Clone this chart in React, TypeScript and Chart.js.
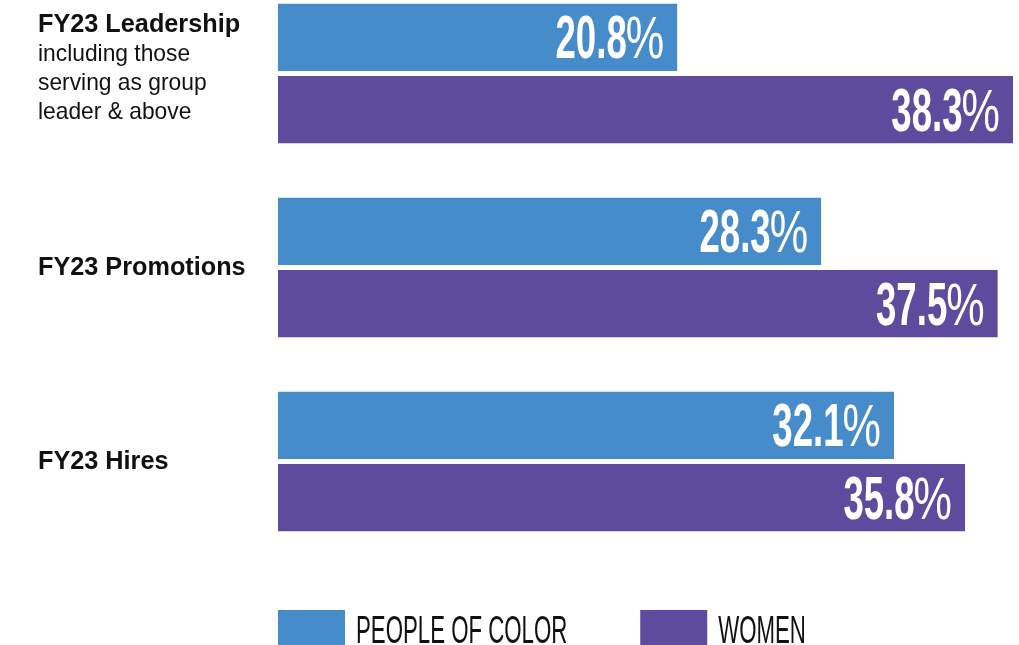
import React, { useEffect, useRef } from "react";
import { Chart, registerables } from "chart.js";

Chart.register(...registerables);

const categories = ["FY23 Leadership", "FY23 Promotions", "FY23 Hires"];
const categorySubLines = [["including those", "serving as group", "leader & above"], [], []];
const seriesNames = ["PEOPLE OF COLOR", "WOMEN"];
const peopleOfColor = [20.8, 28.3, 32.1];
const women = [38.3, 37.5, 35.8];
const seriesColors = ["#478CCA", "#5E4B9E"];

const FONT = "'Liberation Sans', Arial, sans-serif";

const leftLabelsPlugin = {
  id: "leftLabels",
  afterDraw(chart: any) {
    const ctx = chart.ctx;
    const y = chart.scales.y;
    const lh = 29;
    ctx.save();
    ctx.fillStyle = "#111111";
    ctx.textAlign = "left";
    ctx.textBaseline = "alphabetic";
    categories.forEach((cat, i) => {
      const lines = [cat, ...categorySubLines[i]];
      const n = lines.length;
      const c = y.getPixelForValue(i);
      let base = c + 7 - ((n - 1) * lh) / 2 - (n > 1 ? 5 : 0);
      lines.forEach((line, j) => {
        ctx.font = j === 0 ? `bold 25px ${FONT}` : `24px ${FONT}`;
        ctx.save();
        ctx.translate(38, base + j * lh);
        ctx.scale(j === 0 ? 1.01 : 0.95, 1);
        ctx.fillText(line, 0, 0);
        ctx.restore();
      });
    });
    ctx.restore();
  },
};

const valueLabelsPlugin = {
  id: "valueLabels",
  afterDatasetsDraw(chart: any) {
    const ctx = chart.ctx;
    ctx.save();
    ctx.fillStyle = "#ffffff";
    ctx.textAlign = "right";
    ctx.textBaseline = "alphabetic";
    const pctScale = 0.72;
    const numScale = 0.6;
    chart.data.datasets.forEach((ds: any, di: number) => {
      const meta = chart.getDatasetMeta(di);
      meta.data.forEach((el: any, i: number) => {
        const v = ds.data[i];
        const right = el.x - 13;
        const base = el.y + 21;
        ctx.font = `60px ${FONT}`;
        const pctW = ctx.measureText("%").width * pctScale;
        ctx.save();
        ctx.translate(right, base);
        ctx.scale(pctScale, 1);
        ctx.fillText("%", 0, 0);
        ctx.restore();
        ctx.font = `bold 61px ${FONT}`;
        ctx.save();
        ctx.translate(right - pctW + 1, base);
        ctx.scale(numScale, 1);
        ctx.fillText(v.toFixed(1), 0, 0);
        ctx.restore();
      });
    });
    ctx.restore();
  },
};

const legendPlugin = {
  id: "customLegend",
  afterDraw(chart: any) {
    const ctx = chart.ctx;
    const boxW = 67;
    const boxH = 35;
    const top = 610;
    const sx = 0.57;
    let x = chart.chartArea.left;
    ctx.save();
    ctx.font = `39px ${FONT}`;
    ctx.textAlign = "left";
    ctx.textBaseline = "alphabetic";
    chart.data.datasets.forEach((ds: any) => {
      ctx.fillStyle = ds.backgroundColor;
      ctx.fillRect(x, top, boxW, boxH);
      const tx = x + boxW + 11;
      ctx.fillStyle = "#111111";
      ctx.save();
      ctx.translate(tx, top + boxH / 2 + 15.5);
      ctx.scale(sx, 1);
      ctx.fillText(ds.label, 0, 0);
      ctx.restore();
      const w = ctx.measureText(ds.label).width * sx;
      x = tx + w + 73;
    });
    ctx.restore();
  },
};

export default function App() {
  const canvasRef = useRef<HTMLCanvasElement | null>(null);

  useEffect(() => {
    if (!canvasRef.current) return;
    const chart = new Chart(canvasRef.current, {
      type: "bar",
      data: {
        labels: categories,
        datasets: [
          {
            label: seriesNames[0],
            data: peopleOfColor,
            backgroundColor: seriesColors[0],
          },
          {
            label: seriesNames[1],
            data: women,
            backgroundColor: seriesColors[1],
          },
        ],
      },
      options: {
        indexAxis: "y",
        animation: false,
        responsive: false,
        maintainAspectRatio: false,
        datasets: {
          bar: {
            clip: false as any,
            categoryPercentage: 0.744,
            barPercentage: 0.9306,
            borderWidth: 0,
          },
        },
        layout: {
          padding: { left: 278, right: 6, top: 73.5, bottom: 183.5 },
        },
        scales: {
          x: { display: false, min: 0, max: 38.3 },
          y: { display: false, offset: false },
        },
        plugins: {
          legend: { display: false },
          tooltip: { enabled: false },
        },
      },
      plugins: [leftLabelsPlugin, valueLabelsPlugin, legendPlugin],
    });
    return () => chart.destroy();
  }, []);

  return (
    <div style={{ position: "fixed", left: 0, top: 0, width: 1019, height: 645, background: "#ffffff" }}>
      <canvas ref={canvasRef} width={1019} height={645} style={{ display: "block" }} />
    </div>
  );
}
